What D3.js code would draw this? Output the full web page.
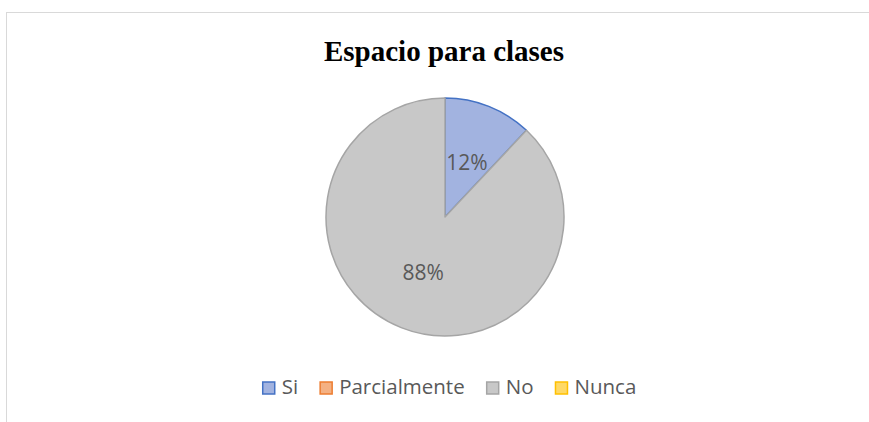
<!DOCTYPE html>
<html>
<head>
<meta charset="utf-8">
<script src="https://cdn.jsdelivr.net/npm/d3@7.9.0/dist/d3.min.js"></script>
<style>
  body { margin: 0; background: #fff; }
  svg { display: block; }
</style>
</head>
<body>
<svg id="chart" width="869" height="422"></svg>
<script>
const title = "Espacio para clases";
const categories = ["Si", "Parcialmente", "No", "Nunca"];
const values = [12, 0, 88, 0];
const fills = ["#a2b3e0", "#f4b183", "#c8c8c8", "#ffd966"];
const strokes = ["#4472c4", "#ed7d31", "#a5a5a5", "#ffc000"];

const svg = d3.select("#chart");

// chart frame
svg.append("rect")
  .attr("x", 6.5).attr("y", 12.5)
  .attr("width", 880).attr("height", 430)
  .attr("fill", "#fff")
  .attr("stroke", "#d9d9d9");

svg.append("text")
  .attr("x", 444).attr("y", 61)
  .attr("text-anchor", "middle")
  .attr("font-family", "Liberation Serif, serif")
  .attr("font-weight", "bold")
  .attr("font-size", 29)
  .attr("fill", "#000")
  .text(title);

const cx = 445, cy = 217, r = 119;
const data = categories.map((c, i) => ({ label: c, value: values[i], i }));

const pie = d3.pie().value((d) => d.value).sort(null);
const arc = d3.arc().innerRadius(0).outerRadius(r);
const labelArc = d3.arc().innerRadius(r * 0.5).outerRadius(r * 0.5);

const g = svg.append("g").attr("transform", `translate(${cx},${cy})`);
const arcs = pie(data).filter((d) => d.data.value > 0);

g.selectAll("path")
  .data(arcs)
  .join("path")
  .attr("d", arc)
  .attr("fill", (d) => fills[d.data.i])
  .attr("stroke", (d) => strokes[d.data.i])
  .attr("stroke-width", 1.5)
  .attr("stroke-linejoin", "round");

const total = d3.sum(values);
g.selectAll("text.pct")
  .data(arcs)
  .join("text")
  .attr("class", "pct")
  .attr("transform", (d) => {
    const [x, y] = labelArc.centroid(d);
    return `translate(${x},${y + 8})`;
  })
  .attr("text-anchor", "middle")
  .attr("font-family", "Open Sans, sans-serif")
  .attr("font-size", 21)
  .attr("fill", "#595959")
  .text((d) => Math.round((d.data.value / total) * 100) + "%");

// legend
const legend = svg.append("g").attr("transform", "translate(0,394)");
const items = [];
data.forEach((d) => {
  const item = legend.append("g");
  item.append("rect")
    .attr("x", 1).attr("y", -12)
    .attr("width", 12).attr("height", 12)
    .attr("fill", fills[d.i])
    .attr("stroke", strokes[d.i])
    .attr("stroke-width", 1.5);
  const t = item.append("text")
    .attr("x", 20).attr("y", 0)
    .attr("font-family", "Open Sans, sans-serif")
    .attr("font-size", 20.5)
    .attr("fill", "#595959")
    .text(d.label);
  const w = 20 + t.node().getComputedTextLength();
  items.push({ item, w });
});
const gap = 21;
const totalW = d3.sum(items, (d) => d.w) + gap * (items.length - 1);
let x = 449 - totalW / 2;
items.forEach(({ item, w }) => {
  item.attr("transform", `translate(${x},0)`);
  x += w + gap;
});
</script>
</body>
</html>
